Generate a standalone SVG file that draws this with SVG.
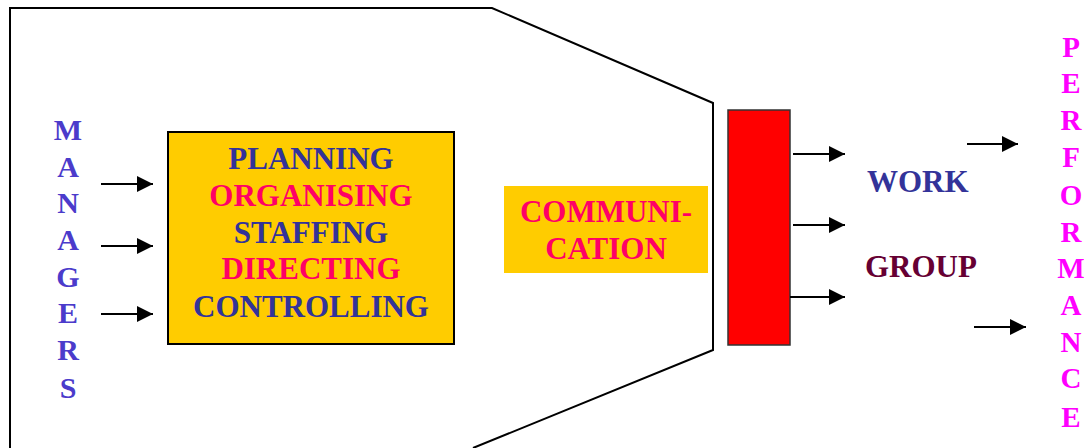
<svg xmlns="http://www.w3.org/2000/svg" width="1084" height="448" viewBox="0 0 1084 448">
  <defs>
    <marker id="arrowhead" markerWidth="8" markerHeight="8" refX="8" refY="4" orient="auto" markerUnits="strokeWidth">
      <path d="M0,0 L8,4 L0,8 Z" fill="#000"/>
    </marker>
    <style>
      text { font-family: "Liberation Serif", "Times New Roman", serif; font-weight: bold; }
      .mid { text-anchor: middle; }
      .blue { fill: #333399; }
      .pink { fill: #FF0066; }
      .violet { fill: #4B3BCB; }
      .magenta { fill: #FF00FF; }
      .maroon { fill: #660033; }
      .arrow { stroke: #000; stroke-width: 2; fill: none; marker-end: url(#arrowhead); }
    </style>
  </defs>
  <rect width="1084" height="448" fill="#fff"/>

  <!-- funnel-shaped enclosure -->
  <g id="enclosure">
    <path d="M10,448 L10,8 L492,8 L713,103 L713,350 L473,448" fill="none" stroke="#000" stroke-width="2"/>
  </g>

  <!-- vertical label on the left -->
  <g id="managers" class="violet">
    <text class="mid" x="68" y="140" font-size="30">M</text>
    <text class="mid" x="68" y="177" font-size="30">A</text>
    <text class="mid" x="68" y="213" font-size="30">N</text>
    <text class="mid" x="68" y="250" font-size="30">A</text>
    <text class="mid" x="68" y="287" font-size="30">G</text>
    <text class="mid" x="68" y="323" font-size="30">E</text>
    <text class="mid" x="68" y="360" font-size="30">R</text>
    <text class="mid" x="68" y="398" font-size="30">S</text>
  </g>

  <!-- management functions box -->
  <g id="functions">
    <rect x="168" y="132" width="286" height="212" fill="#FFCC00" stroke="#000" stroke-width="2"/>
    <text class="mid blue" x="311" y="169" font-size="31">PLANNING</text>
    <text class="mid pink" x="311" y="206" font-size="31">ORGANISING</text>
    <text class="mid blue" x="311" y="243" font-size="31">STAFFING</text>
    <text class="mid pink" x="311" y="279" font-size="31">DIRECTING</text>
    <text class="mid blue" x="311" y="317" font-size="31">CONTROLLING</text>
  </g>

  <!-- communication label -->
  <g id="communication">
    <rect x="504" y="186" width="204" height="87" fill="#FFCC00"/>
    <text class="mid pink" x="606" y="222" font-size="31">COMMUNI-</text>
    <text class="mid pink" x="606" y="259" font-size="31">CATION</text>
  </g>

  <!-- output bar -->
  <g id="output-bar">
    <rect x="728" y="110" width="62" height="235" fill="#FF0000" stroke="#333" stroke-width="1.5"/>
  </g>

  <g id="work">
    <text class="blue" x="867" y="192" font-size="31">WORK</text>
  </g>
  <g id="group">
    <text class="maroon" x="865" y="277" font-size="31">GROUP</text>
  </g>

  <!-- vertical label on the right -->
  <g id="performance" class="magenta">
    <text class="mid" x="1071" y="57" font-size="29">P</text>
    <text class="mid" x="1071" y="93" font-size="29">E</text>
    <text class="mid" x="1071" y="130" font-size="29">R</text>
    <text class="mid" x="1071" y="167" font-size="29">F</text>
    <text class="mid" x="1071" y="205" font-size="29">O</text>
    <text class="mid" x="1071" y="242" font-size="29">R</text>
    <text class="mid" x="1071" y="278" font-size="29">M</text>
    <text class="mid" x="1071" y="315" font-size="29">A</text>
    <text class="mid" x="1071" y="352" font-size="29">N</text>
    <text class="mid" x="1071" y="388" font-size="29">C</text>
    <text class="mid" x="1071" y="427" font-size="29">E</text>
  </g>

  <!-- connectors -->
  <g id="connectors">
    <line class="arrow" x1="101" y1="184" x2="153" y2="184"/>
    <line class="arrow" x1="101" y1="246" x2="153" y2="246"/>
    <line class="arrow" x1="101" y1="314" x2="153" y2="314"/>
    <line class="arrow" x1="793" y1="154" x2="845" y2="154"/>
    <line class="arrow" x1="793" y1="225" x2="845" y2="225"/>
    <line class="arrow" x1="790" y1="297" x2="845" y2="297"/>
    <line class="arrow" x1="967" y1="144" x2="1018" y2="144"/>
    <line class="arrow" x1="974" y1="327" x2="1026" y2="327"/>
  </g>
</svg>
